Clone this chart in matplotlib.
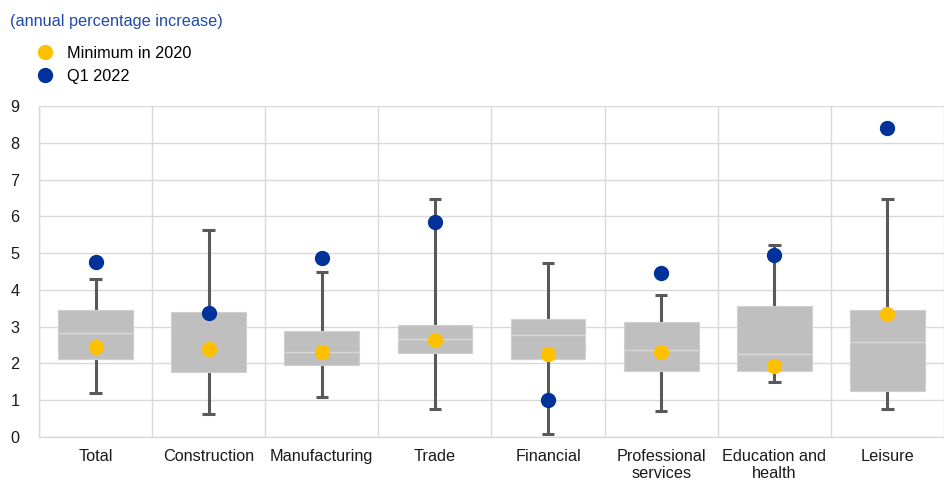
import numpy as np
import matplotlib.pyplot as plt
from matplotlib.patches import Rectangle
from matplotlib.lines import Line2D

plt.rcParams['font.family'] = ['Liberation Sans', 'DejaVu Sans']

# categories and box statistics
categories = ['Total', 'Construction', 'Manufacturing', 'Trade', 'Financial',
              'Professional\nservices', 'Education and\nhealth', 'Leisure']
whisk_lo = [1.20, 0.63, 1.10, 0.75, 0.09, 0.71, 1.49, 0.77]
box_lo = [2.13, 1.76, 1.95, 2.28, 2.11, 1.79, 1.80, 1.25]
# no median line is visible for Construction
median = [2.83, np.nan, 2.31, 2.67, 2.77, 2.37, 2.26, 2.58]
box_hi = [3.44, 3.39, 2.89, 3.04, 3.21, 3.14, 3.56, 3.45]
whisk_hi = [4.29, 5.62, 4.49, 6.46, 4.72, 3.85, 5.21, 6.46]
min_2020 = [2.46, 2.39, 2.30, 2.64, 2.25, 2.31, 1.92, 3.34]
q1_2022 = [4.75, 3.38, 4.87, 5.86, 1.01, 4.46, 4.96, 8.41]

yellow = '#ffc000'
blue = '#003299'
box_col = '#bfbfbf'
whisk_col = '#595959'
grid_col = '#d9d9d9'
fs = 11.7

fig = plt.figure(figsize=(9.44, 4.82), dpi=100)
ax = fig.add_axes([0.0413, 0.0934, 0.9587, 0.6866])

x = np.arange(len(categories))
bw = 0.66
cap = 0.11
for i in x:
    ax.vlines(i, whisk_lo[i], whisk_hi[i], color=whisk_col, lw=2.2, zorder=2)
    ax.hlines([whisk_lo[i], whisk_hi[i]], i - cap / 2, i + cap / 2,
              color=whisk_col, lw=2.2, zorder=2)
    ax.add_patch(Rectangle((i - bw / 2, box_lo[i]), bw, box_hi[i] - box_lo[i],
                           facecolor=box_col, edgecolor='#d0d0d0', lw=0.8, zorder=3))
    if not np.isnan(median[i]):
        ax.hlines(median[i], i - bw / 2, i + bw / 2, color='#d9d9d9', lw=1, zorder=4)

ax.plot(x, min_2020, 'o', color=yellow, ms=10, zorder=5, label='Minimum in 2020')
ax.plot(x, q1_2022, 'o', color=blue, ms=10, zorder=5, label='Q1 2022')

ax.set_xlim(-0.5, len(categories) - 0.5)
ax.set_ylim(0, 9)
ax.set_yticks(range(0, 10))
ax.set_xticks(x)
ax.set_xticklabels(categories, fontsize=fs, color='#1a1a1a', linespacing=1.12)
ax.tick_params(axis='y', labelsize=fs, colors='#1a1a1a', length=0, pad=14)
ax.tick_params(axis='x', length=0, pad=9)

# grid: horizontal lines and column separators
ax.set_xticks(np.arange(-0.5, len(categories)), minor=True)
ax.grid(axis='y', which='major', color=grid_col, lw=1, zorder=0)
ax.grid(axis='x', which='minor', color=grid_col, lw=1, zorder=0)
ax.tick_params(axis='x', which='minor', length=0)
for s in ['top', 'right']:
    ax.spines[s].set_visible(False)
for s in ['left', 'bottom']:
    ax.spines[s].set_color(grid_col)
    ax.spines[s].set_linewidth(1)

fig.text(0.011, 0.955, '(annual percentage increase)', color='#1f4aa8',
         fontsize=fs, va='center')

handles = [Line2D([], [], ls='', marker='o', color=yellow, ms=10),
           Line2D([], [], ls='', marker='o', color=blue, ms=10)]
fig.legend(handles, ['Minimum in 2020', 'Q1 2022'], loc='upper left',
           bbox_to_anchor=(0.030, 0.918), frameon=False, fontsize=fs,
           handletextpad=0.7, labelspacing=0.5, borderaxespad=0,
           handlelength=1.3)

fig.savefig('out.png', dpi=100)
